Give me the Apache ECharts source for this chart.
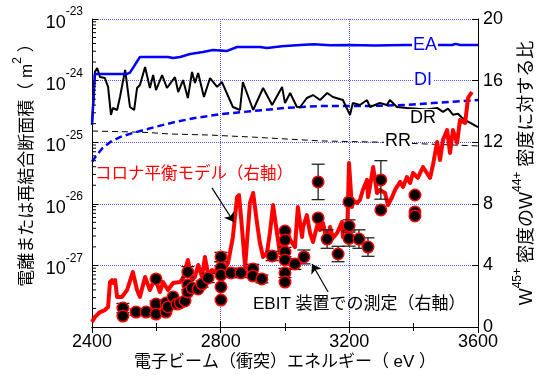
<!DOCTYPE html>
<html><head><meta charset="utf-8">
<script src="https://cdn.jsdelivr.net/npm/echarts@6/dist/echarts.min.js"></script>
<style>html,body{margin:0;padding:0;background:#fff}#c{width:541px;height:380px}</style>
</head><body><div id="c"></div><script>
// ---------- data ----------
const xTicks = [2400, 2800, 3200, 3600];
const rightTicks = [0, 4, 8, 12, 16, 20];
const leftTickExp = [-28, -27, -26, -25, -24, -23];
const logMinorMult = [2, 3, 4, 5, 6, 7, 8, 9];

const eaE = [2400, 2409, 2509, 2518, 2549, 2636, 2652, 2674, 2705, 2745, 2776, 2820, 2851, 2922, 2944, 2990, 3047, 3090, 3140, 3200, 3280, 3370, 3520, 3530, 3545, 3600];
const eaS = [1.9e-25, 1.28e-24, 1.28e-24, 1.35e-24, 2.42e-24, 2.42e-24, 2.32e-24, 2.42e-24, 2.70e-24, 2.91e-24, 3.14e-24, 3.03e-24, 3.51e-24, 3.51e-24, 3.38e-24, 3.6e-24, 3.78e-24, 3.9e-24, 3.75e-24, 3.8e-24, 3.72e-24, 3.8e-24, 3.78e-24, 3.95e-24, 3.78e-24, 3.78e-24];

const diE = [2400, 2415, 2433, 2456, 2487, 2527, 2596, 2658, 2720, 2804, 2901, 3000, 3109, 3264, 3379, 3460, 3600];
const diS = [4.8e-26, 6.2e-26, 8.05e-26, 1.0e-25, 1.21e-25, 1.41e-25, 1.77e-25, 2.13e-25, 2.47e-25, 2.87e-25, 3.21e-25, 3.59e-25, 3.87e-25, 3.87e-25, 4.02e-25, 4.32e-25, 4.84e-25];

const drE = [2400, 2409, 2416, 2425, 2440, 2450, 2459, 2465, 2478, 2487, 2503, 2509, 2518, 2531, 2540, 2549, 2565, 2580, 2590, 2599, 2618, 2633, 2658, 2668, 2683, 2698, 2711, 2720, 2730, 2748, 2767, 2789, 2804, 2838, 2860, 2869, 2901, 2932, 2960, 2991, 3000, 3016, 3037, 3047, 3068, 3087, 3109, 3131, 3149, 3180, 3202, 3211, 3233, 3255, 3264, 3295, 3317, 3326, 3348, 3379, 3410, 3440, 3473, 3491, 3507, 3522, 3538, 3550, 3566, 3600];
const drS = [1.9e-25, 1.38e-24, 1.6e-24, 1.14e-24, 1.1e-24, 7.9e-25, 2.77e-25, 3.59e-25, 3.33e-25, 5.42e-25, 1.49e-24, 1.49e-24, 3.73e-25, 3.33e-25, 7.58e-25, 8.49e-25, 1.66e-24, 7.58e-25, 1.23e-24, 7.03e-25, 1.23e-24, 7.58e-25, 1.14e-24, 6.53e-25, 1.02e-24, 5.22e-25, 1.38e-24, 9.14e-25, 1.33e-24, 5.42e-25, 1.1e-24, 7.9e-25, 9.48e-25, 3.73e-25, 3.33e-25, 9.48e-25, 3.33e-25, 7.58e-25, 4.02e-25, 7.9e-25, 4.32e-25, 6.29e-25, 3.73e-25, 3.73e-25, 5.22e-25, 5.83e-25, 4.84e-25, 6.29e-25, 5.42e-25, 4.84e-25, 2.77e-25, 4.32e-25, 4.02e-25, 4.84e-25, 3.73e-25, 4.32e-25, 4.02e-25, 4.84e-25, 3.73e-25, 3.59e-25, 3.5e-25, 3.4e-25, 3.6e-25, 3.1e-25, 3.5e-25, 2.8e-25, 2.9e-25, 2.5e-25, 2.2e-25, 1.75e-25];

const rrE = [2400, 2518, 2580, 2640, 2760, 2900, 3000, 3109, 3300, 3450, 3600];
const rrS = [1.52e-25, 1.47e-25, 1.43e-25, 1.36e-25, 1.31e-25, 1.21e-25, 1.13e-25, 1.05e-25, 1.0e-25, 9.3e-26, 8.7e-26];

const coronaE = [2400, 2409, 2425, 2440, 2450, 2456, 2462, 2465, 2472, 2478, 2493, 2509, 2527, 2540, 2549, 2565, 2580, 2596, 2611, 2621, 2636, 2652, 2674, 2683, 2698, 2711, 2720, 2730, 2742, 2751, 2761, 2773, 2789, 2804, 2813, 2823, 2838, 2851, 2857, 2866, 2876, 2882, 2891, 2901, 2913, 2922, 2932, 2944, 2953, 2963, 2975, 2984, 2994, 3006, 3016, 3031, 3040, 3053, 3056, 3068, 3078, 3087, 3103, 3109, 3118, 3131, 3140, 3149, 3162, 3177, 3180, 3193, 3199, 3208, 3211, 3224, 3233, 3242, 3255, 3258, 3264, 3274, 3286, 3295, 3311, 3320, 3333, 3342, 3358, 3367, 3379, 3389, 3398, 3413, 3429, 3441, 3451, 3460, 3473, 3482, 3491, 3504, 3513, 3522, 3535, 3544, 3560, 3569, 3581];
const coronaV = [0.32, 0.65, 0.97, 1.10, 1.30, 2.92, 3.05, 2.86, 3.05, 1.95, 1.95, 2.40, 3.57, 2.40, 1.95, 3.25, 2.40, 3.18, 2.27, 2.92, 2.40, 2.86, 2.92, 3.18, 4.35, 3.05, 3.25, 4.03, 3.25, 4.55, 3.38, 3.70, 3.51, 4.03, 3.83, 4.16, 5.84, 8.44, 8.57, 6.49, 3.90, 3.90, 8.05, 8.70, 6.75, 5.45, 4.55, 4.81, 6.10, 7.92, 6.10, 4.81, 6.10, 6.30, 5.65, 5.19, 7.79, 5.84, 6.49, 7.27, 6.10, 5.52, 6.82, 6.30, 6.75, 5.52, 6.49, 5.78, 6.10, 6.82, 5.84, 5.78, 10.65, 7.79, 8.25, 8.05, 8.25, 8.90, 9.55, 8.44, 9.09, 10.39, 8.70, 8.90, 8.70, 7.92, 8.44, 8.90, 9.42, 9.09, 9.74, 9.35, 10.0, 9.68, 10.39, 10.0, 9.68, 10.52, 12.01, 10.84, 12.14, 12.79, 11.30, 12.79, 11.95, 13.44, 13.25, 14.87, 15.26];

const ebitE = [2496, 2496, 2537, 2568, 2599, 2599, 2599, 2630, 2630, 2636, 2652, 2664, 2674, 2689, 2698, 2698, 2698, 2711, 2730, 2742, 2761, 2801, 2801, 2801, 2801, 2801, 2832, 2863, 2900, 2900, 2928, 2960, 3000, 3000, 3000, 3000, 3000, 3000, 3031, 3059, 3103, 3103, 3131, 3165, 3199, 3199, 3199, 3230, 3258, 3298, 3298, 3404, 3404, 3404];
const ebitV = [1.23, 0.71, 0.97, 0.97, 3.12, 1.49, 0.84, 1.56, 0.97, 1.30, 1.95, 1.49, 1.56, 1.69, 3.57, 2.73, 2.27, 2.53, 2.47, 2.79, 3.18, 4.55, 3.83, 3.38, 2.60, 1.75, 3.51, 3.51, 3.77, 3.31, 3.12, 4.61, 6.23, 5.65, 4.87, 4.35, 3.51, 2.92, 4.09, 4.55, 9.42, 7.08, 5.71, 4.74, 8.12, 6.56, 5.75, 5.71, 5.19, 9.55, 7.60, 8.57, 7.47, 7.21];
const ebitErr = [0.3, 0, 0.2, 0.2, 0, 0.2, 0, 0.2, 0, 0, 0, 0, 0, 0, 0.35, 0.3, 0, 0, 0, 0.2, 0.3, 0.3, 0.4, 0, 0, 0, 0.3, 0.3, 0.3, 0, 0.25, 0.3, 0, 0, 0.3, 0, 0.3, 0, 0.35, 0.45, 1.15, 0, 0.6, 0.5, 0, 0.4, 0.5, 0.6, 0.6, 1.25, 0, 0, 0, 0];

// annotation arrows (data units, right axis)
const arrowCorona = [[2773, 9.03], [2841, 6.82]];
const arrowEbit = [[3134, 2.27], [3084, 4.09]];

// ---------- build ----------
const FONT = "'Liberation Sans', 'Noto Sans CJK JP', sans-serif";
const zip = (a, b) => a.map((v, i) => [v, b[i]]);
const minorVals = [];
leftTickExp.slice(0, -1).forEach(e => logMinorMult.forEach(m => minorVals.push(m * Math.pow(10, e))));

const grid = {left: 92, right: 63, top: 19, bottom: 53, containLabel: false, outerBoundsMode: 'none'};
const axisLineStyle = {show: true, lineStyle: {color: '#000', width: 1}};
const gridLineStyle = {show: true, lineStyle: {color: '#5858ff', type: 'dotted', width: 1}};

const option = {
  animation: false,
  backgroundColor: '#fff',
  grid: grid,
  xAxis: [{
    type: 'value', min: xTicks[0], max: xTicks[xTicks.length - 1], interval: 400,
    position: 'bottom',
    axisLine: axisLineStyle,
    axisTick: {show: true, inside: true, length: 6, lineStyle: {color: '#000'}},
    minorTick: {show: true, splitNumber: 2, length: 4, lineStyle: {color: '#000'}},
    splitLine: gridLineStyle,
    axisLabel: {color: '#000', fontSize: 18, fontFamily: FONT, margin: 6,
      formatter: v => xTicks.includes(v) ? String(v) : ''},
    name: '電子ビーム（衝突）エネルギー（ eV ）', nameLocation: 'middle', nameGap: 27, nameMoveOverlap: false,
    nameTextStyle: {color: '#000', fontSize: 17, fontFamily: FONT}
  }, {
    type: 'value', min: xTicks[0], max: xTicks[xTicks.length - 1], interval: 400,
    position: 'top',
    axisLine: axisLineStyle,
    axisTick: {show: true, inside: true, length: 6, lineStyle: {color: '#000'}},
    minorTick: {show: true, splitNumber: 2, length: 4, lineStyle: {color: '#000'}},
    splitLine: {show: false},
    axisLabel: {show: false}
  }],
  yAxis: [{
    type: 'log', logBase: 10, min: Math.pow(10, leftTickExp[0]), max: Math.pow(10, leftTickExp[leftTickExp.length - 1]),
    position: 'left',
    axisLine: axisLineStyle,
    axisTick: {show: true, inside: true, length: 6, lineStyle: {color: '#000'}},
    splitLine: gridLineStyle,
    axisLabel: {
      color: '#000', fontFamily: FONT, margin: 9,
      formatter: v => {
        const e = leftTickExp.find(x => Math.abs(Math.log10(v) - x) < 1e-6);
        return e === undefined ? '' : '{b|10}{s|' + e + '}';
      },
      rich: {
        b: {fontSize: 18, lineHeight: 26, verticalAlign: 'bottom', fontFamily: FONT, color: '#000'},
        s: {fontSize: 12, lineHeight: 26, verticalAlign: 'top', fontFamily: FONT, color: '#000'}
      }
    },
    name: '{f|電離または再結合断面積（ m}{sup|2}{n| ）}', nameLocation: 'middle', nameRotate: 90, nameGap: 56,
    nameMoveOverlap: false,
    nameTextStyle: {color: '#000', fontFamily: FONT, fontSize: 17,
      rich: {
        f: {fontSize: 17, lineHeight: 24, verticalAlign: 'bottom', fontFamily: FONT, color: '#000', padding: [0, 0, 0, 24]},
        n: {fontSize: 17, lineHeight: 24, verticalAlign: 'bottom', fontFamily: FONT, color: '#000'},
        sup: {fontSize: 12, lineHeight: 24, verticalAlign: 'top', fontFamily: FONT, color: '#000'}
      }}
  }, {
    type: 'value', min: rightTicks[0], max: rightTicks[rightTicks.length - 1], interval: 4,
    position: 'right',
    axisLine: axisLineStyle,
    axisTick: {show: true, inside: true, length: 6, lineStyle: {color: '#000'}},
    splitLine: {show: false},
    axisLabel: {color: '#000', fontSize: 18, fontFamily: FONT, margin: 5,
      formatter: v => rightTicks.includes(v) ? String(v) : ''},
    name: '{n|W}{sup|45+}{n| 密度のW}{sup|44+}{n| 密度に対する比}', nameLocation: 'middle', nameRotate: 90, nameGap: 34,
    nameMoveOverlap: false,
    nameTextStyle: {color: '#000', fontFamily: FONT,
      rich: {
        n: {fontSize: 18, lineHeight: 24, verticalAlign: 'bottom', fontFamily: FONT, color: '#000'},
        sup: {fontSize: 12, lineHeight: 24, verticalAlign: 'top', fontFamily: FONT, color: '#000'}
      }}
  }],
  graphic: [
    {type: 'text', z: 100, x: 425, y: 45, style: {text: 'EA', fill: '#0000ff', font: '18px ' + FONT, align: 'center', verticalAlign: 'middle', backgroundColor: '#fff', padding: [0, 1]}},
    {type: 'text', z: 100, x: 423, y: 80, style: {text: 'DI', fill: '#0000ff', font: '18px ' + FONT, align: 'center', verticalAlign: 'middle', backgroundColor: '#fff', padding: [0, 1]}},
    {type: 'text', z: 100, x: 423, y: 118, style: {text: 'DR', fill: '#000', font: '18px ' + FONT, align: 'center', verticalAlign: 'middle', backgroundColor: '#fff', padding: [0, 1]}},
    {type: 'text', z: 100, x: 398, y: 141, style: {text: 'RR', fill: '#000', font: '18px ' + FONT, align: 'center', verticalAlign: 'middle', backgroundColor: '#fff', padding: [0, 1]}},
    {type: 'text', z: 100, x: 95, y: 174, style: {text: 'コロナ平衡モデル（右軸）', fill: '#ff0000', font: '16.5px ' + FONT, align: 'left', verticalAlign: 'middle'}},
    {type: 'text', z: 100, x: 253, y: 304, style: {text: 'EBIT 装置での測定（右軸）', fill: '#000', font: '17px ' + FONT, align: 'left', verticalAlign: 'middle'}}
  ],
  series: [
    {type: 'custom', name: 'logMinorTicks', xAxisIndex: 0, yAxisIndex: 0, silent: true, clip: false, z: 5,
      data: minorVals.map(v => [xTicks[0], v]),
      renderItem: (params, api) => {
        const p = api.coord([api.value(0), api.value(1)]);
        return {type: 'line', shape: {x1: p[0], y1: p[1], x2: p[0] + 4, y2: p[1]}, style: {stroke: '#000', lineWidth: 1}};
      }},
    {type: 'line', name: 'RR', xAxisIndex: 0, yAxisIndex: 0, data: zip(rrE, rrS), showSymbol: false, symbol: 'none',
      lineStyle: {color: '#000', width: 1, type: [6, 4]}, z: 3},
    {type: 'line', name: 'DI', xAxisIndex: 0, yAxisIndex: 0, data: zip(diE, diS), showSymbol: false, symbol: 'none',
      lineStyle: {color: '#0000ff', width: 2.5, type: [7, 4]}, z: 3},
    {type: 'line', name: 'DR', xAxisIndex: 0, yAxisIndex: 0, data: zip(drE, drS), showSymbol: false, symbol: 'none',
      lineStyle: {color: '#000', width: 2}, z: 3},
    {type: 'line', name: 'EA', xAxisIndex: 0, yAxisIndex: 0, data: zip(eaE, eaS), showSymbol: false, symbol: 'none',
      lineStyle: {color: '#0000ff', width: 2.5}, z: 3},
    {type: 'line', name: 'corona', xAxisIndex: 0, yAxisIndex: 1, data: zip(coronaE, coronaV), showSymbol: false, symbol: 'none',
      lineStyle: {color: '#ff0000', width: 4, join: 'round'}, z: 4,
      markLine: {silent: true, symbol: ['none', 'arrow'], symbolSize: 9, label: {show: false},
        lineStyle: {color: '#000', width: 1.2, type: 'solid'},
        data: [
          [{coord: arrowCorona[0]}, {coord: arrowCorona[1]}],
          [{coord: arrowEbit[0]}, {coord: arrowEbit[1]}]
        ]}},
    {type: 'custom', name: 'ebitErr', xAxisIndex: 0, yAxisIndex: 1, silent: true, z: 6,
      data: ebitE.map((e, i) => [e, ebitV[i], ebitErr[i]]),
      renderItem: (params, api) => {
        const x = api.value(0), y = api.value(1), er = api.value(2);
        if (!er) return null;
        const t = api.coord([x, y + er]), b = api.coord([x, y - er]);
        const hw = 6.5, st = {stroke: '#222', lineWidth: 1.3};
        return {type: 'group', children: [
          {type: 'line', shape: {x1: t[0], y1: t[1], x2: b[0], y2: b[1]}, style: st},
          {type: 'line', shape: {x1: t[0] - hw, y1: t[1], x2: t[0] + hw, y2: t[1]}, style: st},
          {type: 'line', shape: {x1: b[0] - hw, y1: b[1], x2: b[0] + hw, y2: b[1]}, style: st}
        ]};
      }},
    {type: 'scatter', name: 'EBIT', xAxisIndex: 0, yAxisIndex: 1, data: zip(ebitE, ebitV), symbol: 'circle', symbolSize: 11.5,
      itemStyle: {color: '#000', borderColor: '#ff0000', borderWidth: 1.5, opacity: 1}, z: 7}
  ]
};
const chart = echarts.init(document.getElementById('c'), null, {renderer: 'canvas'});
chart.setOption(option);
</script></body></html>
